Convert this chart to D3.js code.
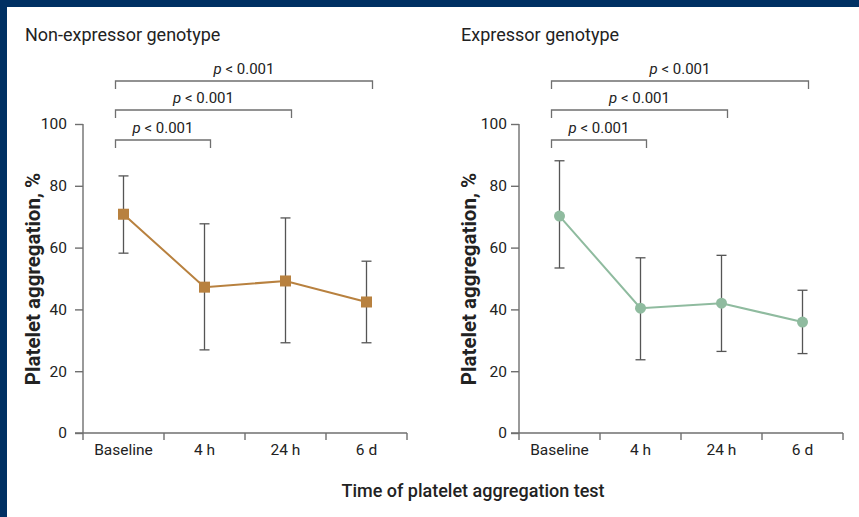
<!DOCTYPE html>
<html>
<head>
<meta charset="utf-8">
<script src="https://cdn.jsdelivr.net/npm/d3@7"></script>
<style>
  html, body { margin: 0; padding: 0; background: #fff; }
  svg { display: block; font-family: Roboto, "Noto Sans", sans-serif; }
</style>
</head>
<body>
<svg id="chart" width="859" height="517"></svg>
<script>
// Time points of the aggregation test
const categories = ["Baseline", "4 h", "24 h", "6 d"];
const yTicks = [0, 20, 40, 60, 80, 100];

// Non-expressor genotype: mean and error-bar limits (%)
const nonExpMean  = [70.8, 47.2, 49.2, 42.4];
const nonExpUpper = [83.2, 67.7, 69.6, 55.6];
const nonExpLower = [58.2, 26.9, 29.2, 29.2];

// Expressor genotype: mean and error-bar limits (%)
const expMean  = [70.2, 40.4, 42.0, 35.9];
const expUpper = [88.1, 56.7, 57.5, 46.2];
const expLower = [53.4, 23.7, 26.4, 25.7];

// Pairwise comparisons against baseline
const comparisons = [[0, 1], [0, 2], [0, 3]];
const pLabels = ["0.001", "0.001", "0.001"];

const svg = d3.select("#chart");
svg.append("rect").attr("width", 859).attr("height", 517).attr("fill", "#fff");
svg.append("rect").attr("width", 859).attr("height", 7).attr("fill", "#003063");
svg.append("rect").attr("width", 7).attr("height", 517).attr("fill", "#003063");

const axisColor = "#6f6f6f";
const textColor = "#222";

function panel(opts) {
  const { x0, x1, title, mean, upper, lower, color, marker, labelX, yPad } = opts;
  const y = d3.scaleLinear().domain([0, 100]).range([433, 124]);
  const x = d3.scaleBand().domain(categories).range([x0, x1]).padding(0);
  const cx = d => x(d) + x.bandwidth() / 2;
  const g = svg.append("g");

  // Panel title
  g.append("text")
    .attr("x", opts.titleX).attr("y", 41)
    .attr("font-size", 18).attr("fill", textColor)
    .text(title);

  // Y axis
  const yAxis = g.append("g")
    .attr("transform", `translate(${x0},0)`)
    .call(d3.axisLeft(y).tickValues(yTicks).tickSize(8).tickPadding(yPad));
  yAxis.select(".domain").attr("d", `M0,${y(100)}V${y(0)}`);

  // X axis: labels centred in bands, ticks at band edges
  const xAxis = g.append("g")
    .attr("transform", `translate(0,${y(0)})`)
    .call(d3.axisBottom(x).tickSize(0).tickPadding(11));
  xAxis.select(".domain").attr("d", `M${x0 - 8},0H${x1}`);
  const edges = categories.map(c => x(c)).concat([x1]);
  xAxis.selectAll(".edge").data(edges).join("line")
    .attr("class", "edge")
    .attr("x1", d => d).attr("x2", d => d)
    .attr("y1", 0).attr("y2", 7);

  [yAxis, xAxis].forEach(a => {
    a.selectAll("path, line").attr("stroke", axisColor).attr("stroke-width", 1.4);
    a.selectAll("text").attr("font-size", 15.5).attr("fill", textColor)
      .attr("font-family", "Roboto, sans-serif");
  });

  // Y axis title
  g.append("text")
    .attr("transform", `translate(${labelX},279) rotate(-90)`)
    .attr("text-anchor", "middle")
    .attr("dominant-baseline", "central")
    .attr("font-size", 20.5).attr("font-weight", 700).attr("fill", textColor)
    .text("Platelet aggregation, %");

  // Significance brackets
  const levels = [140, 110, 81];
  comparisons.forEach(([a, b], i) => {
    const xa = cx(categories[a]) - 8;
    const xb = cx(categories[b]) + 6;
    const ly = levels[i];
    g.append("path")
      .attr("d", `M${xa},${ly + 8}V${ly}H${xb}V${ly + 8}`)
      .attr("fill", "none").attr("stroke", axisColor).attr("stroke-width", 1.3);
    const t = g.append("text")
      .attr("x", (xa + xb) / 2).attr("y", ly - 7)
      .attr("text-anchor", "middle").attr("font-size", 15).attr("fill", textColor);
    t.append("tspan").attr("font-style", "italic").text("p");
    t.append("tspan").text(" < " + pLabels[i]);
  });

  // Error bars
  const eb = g.append("g").attr("stroke", "#555").attr("stroke-width", 1.3);
  categories.forEach((c, i) => {
    eb.append("line").attr("x1", cx(c)).attr("x2", cx(c))
      .attr("y1", y(upper[i])).attr("y2", y(lower[i]));
    [upper[i], lower[i]].forEach(v => {
      eb.append("line").attr("x1", cx(c) - 5).attr("x2", cx(c) + 5)
        .attr("y1", y(v)).attr("y2", y(v));
    });
  });

  // Mean line
  const line = d3.line().x((d, i) => cx(categories[i])).y(d => y(d));
  g.append("path").datum(mean).attr("d", line)
    .attr("fill", "none").attr("stroke", color).attr("stroke-width", 2);

  // Markers
  if (marker === "square") {
    g.selectAll(".pt").data(mean).join("rect")
      .attr("x", (d, i) => cx(categories[i]) - 5.5)
      .attr("y", d => y(d) - 5.5)
      .attr("width", 11).attr("height", 11)
      .attr("fill", color);
  } else {
    g.selectAll(".pt").data(mean).join("circle")
      .attr("cx", (d, i) => cx(categories[i]))
      .attr("cy", d => y(d))
      .attr("r", 5.5)
      .attr("fill", color);
  }
}

panel({ x0: 83, x1: 407, title: "Non-expressor genotype", titleX: 25, labelX: 33, yPad: 8,
        mean: nonExpMean, upper: nonExpUpper, lower: nonExpLower,
        color: "#b8813f", marker: "square" });
panel({ x0: 519, x1: 843, title: "Expressor genotype", titleX: 461, labelX: 469, yPad: 4,
        mean: expMean, upper: expUpper, lower: expLower,
        color: "#8fbb9f", marker: "circle" });

// Shared x axis title
svg.append("text")
  .attr("x", 473).attr("y", 497)
  .attr("text-anchor", "middle")
  .attr("font-size", 18).attr("font-weight", 500).attr("fill", textColor)
  .text("Time of platelet aggregation test");
</script>
</body>
</html>
